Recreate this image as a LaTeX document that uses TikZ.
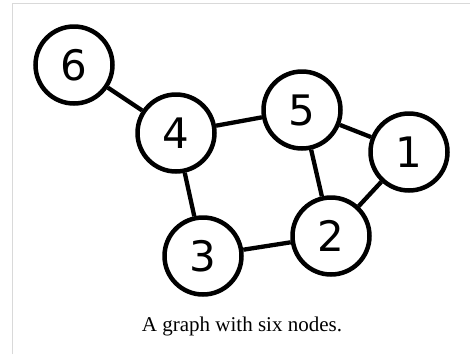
\documentclass[tikz,border=0pt]{standalone}
\usepackage{fontspec}
\setmainfont{Liberation Serif}
\newfontfamily\digitfont{DejaVu Sans}
\begin{document}
\begin{tikzpicture}[x=1pt,y=-1pt,
  vertex/.style={circle,draw=black,line width=4.5pt,fill=white,minimum size=77pt,inner sep=0pt,font=\digitfont\fontsize{42}{42}\selectfont},
  edge/.style={line width=4.3pt}]
\useasboundingbox (0,0) rectangle (470,354);
\draw[color=black!15,line width=1.5pt] (12.5,354) -- (12.5,3.5) -- (470,3.5);
\node[vertex] (n6) at (74,65) {6};
\node[vertex] (n4) at (176,133) {4};
\node[vertex] (n5) at (302,110) {5};
\node[vertex] (n1) at (409,152) {1};
\node[vertex] (n2) at (331,236) {2};
\node[vertex] (n3) at (203,256) {3};
\draw[edge] (n6) -- (n4);
\draw[edge] (n4) -- (n5);
\draw[edge] (n5) -- (n1);
\draw[edge] (n5) -- (n2);
\draw[edge] (n1) -- (n2);
\draw[edge] (n4) -- (n3);
\draw[edge] (n3) -- (n2);
\node[font=\fontsize{21}{21}\selectfont] (cap) at (242,326) {A graph with six nodes.};
\end{tikzpicture}
\end{document}
